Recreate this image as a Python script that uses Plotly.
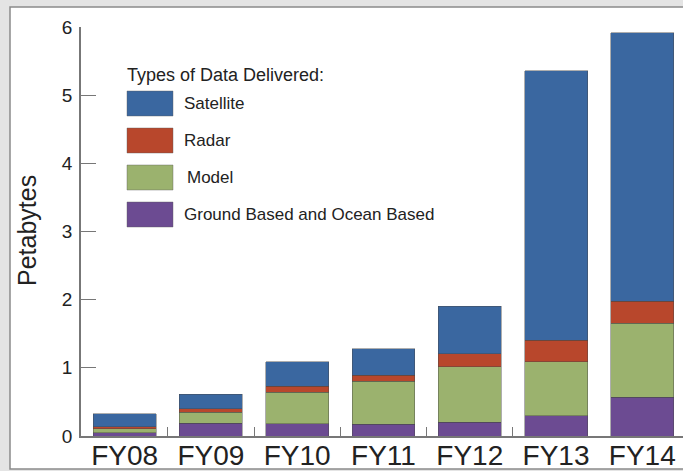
import plotly.graph_objects as go

categories = ["FY08", "FY09", "FY10", "FY11", "FY12", "FY13", "FY14"]
ground = [0.05, 0.19, 0.18, 0.17, 0.20, 0.30, 0.57]
model = [0.06, 0.16, 0.46, 0.63, 0.815, 0.79, 1.085]
radar = [0.025, 0.05, 0.09, 0.09, 0.19, 0.315, 0.325]
satellite = [0.195, 0.21, 0.36, 0.39, 0.70, 3.955, 3.935]

series_names = ["Ground Based and Ocean Based", "Model", "Radar", "Satellite"]
series_values = [ground, model, radar, satellite]
series_colors = ["#6c4b92", "#9bb26e", "#b8472c", "#3a67a0"]

legend_title = "Types of Data Delivered:"
legend_order = ["Satellite", "Radar", "Model", "Ground Based and Ocean Based"]
y_title = "Petabytes"
y_ticks = [0, 1, 2, 3, 4, 5, 6]

W, H = 683, 471
L, R, T, B = 81, 0, 27, 35
PW, PH = W - L - R, H - T - B


def px_x(px):
    return (px - L) / PW


def px_y(py):
    return (H - B - py) / PH


xs = list(range(len(categories)))
fig = go.Figure()
for name, vals, col in zip(series_names, series_values, series_colors):
    fig.add_trace(go.Bar(
        x=xs, y=vals, name=name, width=0.73,
        marker=dict(color=col, line=dict(color="rgba(70,70,70,0.55)", width=0.8)),
        showlegend=False,
    ))

shapes = []
annotations = []
# outer white panel
shapes.append(dict(type="rect", xref="paper", yref="paper", layer="below",
                   x0=px_x(10), x1=px_x(700), y0=px_y(469), y1=px_y(7),
                   fillcolor="white", line=dict(color="#8a8a8a", width=1.5)))

# custom legend
color_of = dict(zip(series_names, series_colors))
annotations.append(dict(text=legend_title, xref="paper", yref="paper",
                        x=px_x(125), y=px_y(75), xanchor="left", yanchor="middle",
                        showarrow=False, font=dict(size=18, color="#222")))
for i, name in enumerate(legend_order):
    top = 91 + 37 * i
    shapes.append(dict(type="rect", xref="paper", yref="paper",
                       x0=px_x(127), x1=px_x(173), y0=px_y(top + 25), y1=px_y(top),
                       fillcolor=color_of[name], line=dict(color="rgba(90,90,90,0.5)", width=0.8)))
    annotations.append(dict(text=name, xref="paper", yref="paper",
                            x=px_x(185 if name == "Model" else 182), y=px_y(top + 12.5),
                            xanchor="left", yanchor="middle", showarrow=False,
                            font=dict(size=17, color="#222")))

annotations.append(dict(text=y_title, xref="paper", yref="paper",
                        x=px_x(27), y=px_y(231), xanchor="center", yanchor="middle",
                        textangle=-90, showarrow=False, font=dict(size=25, color="#222")))

fig.update_layout(
    width=W, height=H, barmode="stack", bargap=0.27,
    margin=dict(l=L, r=R, t=T, b=B, pad=0, autoexpand=False),
    paper_bgcolor="#e4e4e4", plot_bgcolor="rgba(0,0,0,0)",
    font=dict(family="Liberation Sans, Arial, sans-serif", color="#222"),
    shapes=shapes, annotations=annotations,
    xaxis=dict(range=[-0.5066, 6.472], tickvals=xs, ticktext=categories,
               ticks="", showgrid=False, zeroline=False, automargin=False,
               showline=True, linecolor="#777", linewidth=1.5,
               tickfont=dict(size=28, color="#222"), ticklabelstandoff=-6,
               minor=dict(tickvals=[0.5, 1.5, 2.5, 3.5, 4.5], ticks="inside",
                          ticklen=9, tickcolor="#777", tickwidth=1.2, showgrid=False)),
    yaxis=dict(range=[0, 6], tickvals=y_ticks, ticks="", showgrid=False,
               zeroline=False, showline=True, linecolor="#777", linewidth=1.5,
               automargin=False,
               tickfont=dict(size=19, color="#222"), ticklabelstandoff=3,
               minor=dict(tickvals=[1, 2, 3, 4, 5], ticks="inside", ticklen=15,
                          tickcolor="#777", tickwidth=1.2, showgrid=False)),
)

fig.write_html(
    "out.html",
    config={"displayModeBar": False},
    post_script="document.body.style.margin='0';document.body.style.padding='0';"
                "document.body.style.overflow='hidden';"
                "document.body.style.background='#e4e4e4';",
)
